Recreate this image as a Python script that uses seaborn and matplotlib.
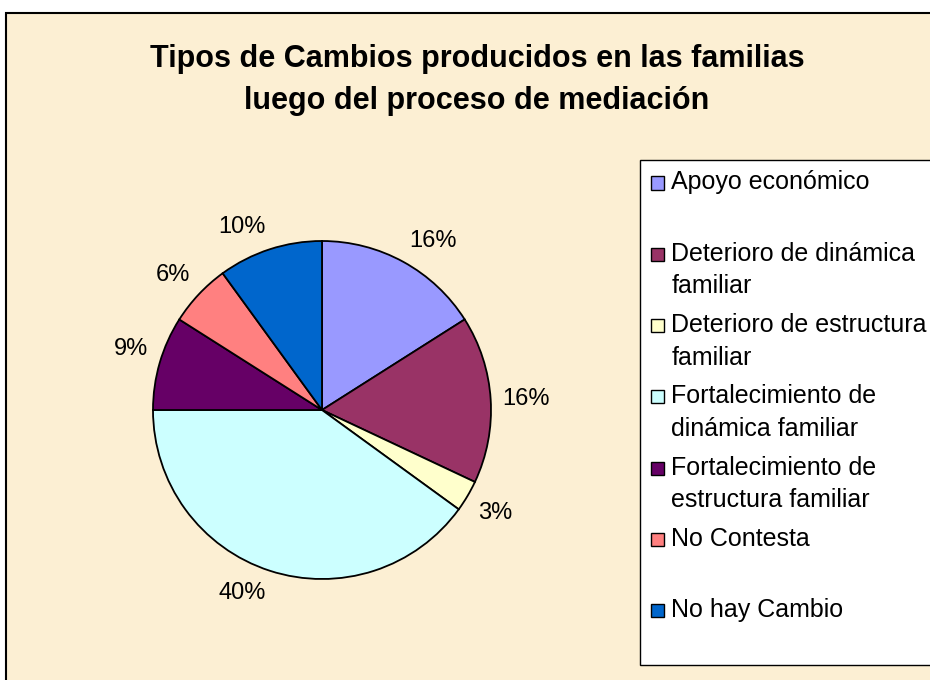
import matplotlib
matplotlib.use("Agg")
import matplotlib.pyplot as plt
import seaborn as sns
from matplotlib.patches import Rectangle
from matplotlib.legend_handler import HandlerPatch

categorias = [
    "Apoyo económico",
    "Deterioro de dinámica\nfamiliar",
    "Deterioro de estructura\nfamiliar",
    "Fortalecimiento de\ndinámica familiar",
    "Fortalecimiento de\nestructura familiar",
    "No Contesta",
    "No hay Cambio",
]
porcentajes = [16, 16, 3, 40, 9, 6, 10]
colores = ["#9999FF", "#993366", "#FFFFCC", "#CCFFFF", "#660066", "#FF8080", "#0066CC"]
titulo = "Tipos de Cambios producidos en las familias\nluego del proceso de mediación"

sns.set_style("white")
plt.rcParams["font.family"] = ["Liberation Sans", "DejaVu Sans"]
plt.rcParams["text.color"] = "black"

W, H = 930, 680
fig = plt.figure(figsize=(W / 100, H / 100), dpi=100, facecolor="white")

# fondo del area del grafico
fondo = Rectangle((6 / W, -0.05), 1.1, 1 - 13 / H + 0.05, transform=fig.transFigure,
                  facecolor="#FCEFD3", edgecolor="black", lw=1.5, zorder=-10)
fig.patches.append(fondo)

fig.text(477 / W, 1 - 80 / H, titulo, ha="center", va="center", fontsize=22,
         fontweight="bold", linespacing=1.5)

cx, cy, r = 322, 410, 169
ax = fig.add_axes([(cx - r) / W, 1 - (cy + r) / H, 2 * r / W, 2 * r / H])
ax.set_facecolor("none")
ax.axis("off")
wedges, textos = ax.pie(
    porcentajes,
    colors=sns.color_palette(colores),
    startangle=90,
    counterclock=False,
    labels=[f"{p}%" for p in porcentajes],
    labeldistance=1.07,
    wedgeprops=dict(edgecolor="black", linewidth=1.3),
    textprops=dict(fontsize=17),
)
# etiquetas estilo Excel: ancladas por la esquina mas cercana al pastel
for t in textos:
    x, y = t.get_position()
    t.set_ha("left" if x > 0 else "right")
    if abs(y) < 0.15:
        t.set_va("center")
    else:
        t.set_va("bottom" if y > 0 else "top")
ax.set_xlim(-1, 1)
ax.set_ylim(-1, 1)


class CuadroArriba(HandlerPatch):
    # coloca el cuadro a la altura de la primera linea del texto
    def create_artists(self, legend, orig_handle, xdescent, ydescent,
                       width, height, fontsize, trans):
        s = 9.5
        p = Rectangle((-xdescent, 13.5), s, s, facecolor=orig_handle.get_facecolor(),
                      edgecolor="black", lw=1.0, transform=trans)
        return [p]


etiquetas = [c if "\n" in c else c + "\n " for c in categorias]
leg = fig.legend(
    wedges, etiquetas,
    loc="upper left", bbox_to_anchor=(640 / W, 1 - 160 / H),
    frameon=True, fancybox=False, shadow=False, framealpha=1, fontsize=18,
    handlelength=0.53, handletextpad=0.3, labelspacing=0.59,
    borderpad=0.42, borderaxespad=0,
    handler_map={matplotlib.patches.Wedge: CuadroArriba()},
)
leg.get_frame().set_edgecolor("black")
leg.get_frame().set_linewidth(1.0)
leg.get_frame().set_facecolor("white")
for t in leg.get_texts():
    t.set_linespacing(1.45)

fig.savefig("out.png", dpi=100, facecolor="white")
